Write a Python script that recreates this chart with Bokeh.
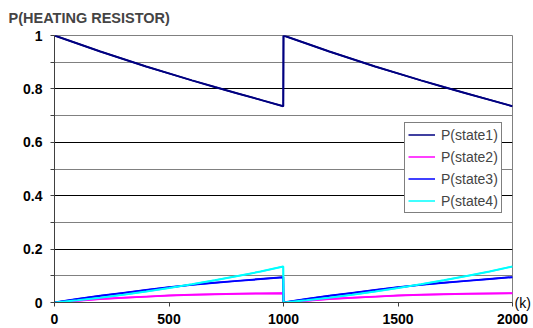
from bokeh.plotting import figure
from bokeh.models import (Range1d, ColumnDataSource, Legend, LegendItem,
                          FixedTicker, Title, LinearAxis)
from bokeh.embed import file_html
from bokeh.resources import INLINE

# ---- data ----
k = [0, 100, 200, 300, 400, 500, 600, 700, 800, 900, 999,
     1000, 1100, 1200, 1300, 1400, 1500, 1600, 1700, 1800, 1900, 2000]
p_state1 = [1.000, 0.970, 0.940, 0.912, 0.884, 0.858, 0.832, 0.807, 0.783, 0.759, 0.735,
            1.000, 0.970, 0.940, 0.912, 0.884, 0.858, 0.832, 0.807, 0.783, 0.759, 0.735]
p_state2 = [0.000, 0.007, 0.013, 0.018, 0.022, 0.026, 0.029, 0.031, 0.033, 0.034, 0.035,
            0.000, 0.007, 0.013, 0.018, 0.022, 0.026, 0.029, 0.031, 0.033, 0.034, 0.035]
p_state3 = [0.000, 0.013, 0.025, 0.036, 0.047, 0.057, 0.066, 0.074, 0.081, 0.088, 0.095,
            0.000, 0.013, 0.025, 0.036, 0.047, 0.057, 0.066, 0.074, 0.081, 0.088, 0.095]
p_state4 = [0.000, 0.008, 0.018, 0.029, 0.041, 0.054, 0.068, 0.083, 0.099, 0.116, 0.135,
            0.000, 0.008, 0.018, 0.029, 0.041, 0.054, 0.068, 0.083, 0.099, 0.116, 0.135]
series_names = ["P(state1)", "P(state2)", "P(state3)", "P(state4)"]
series_colors = ["#000080", "#ff00ff", "#0000ff", "#00ffff"]
x_ticks = [0, 500, 1000, 1500, 2000]
y_major_ticks = [0, 0.2, 0.4, 0.6, 0.8, 1.0]
y_minor_ticks = [0.1, 0.3, 0.5, 0.7, 0.9]
chart_title = "P(HEATING RESISTOR)"
x_unit = "(k)"

FONT = "Liberation Sans"

p = figure(width=533, height=328, output_backend="svg", toolbar_location=None,
           x_range=Range1d(0, 2000), y_range=Range1d(0, 1),
           min_border_left=54, min_border_right=21, min_border_top=35,
           min_border_bottom=26)
p.outline_line_color = "#808080"
p.outline_line_width = 1
p.background_fill_color = "white"

# axes
p.xaxis.ticker = FixedTicker(ticks=x_ticks)
p.yaxis.ticker = FixedTicker(ticks=y_major_ticks, minor_ticks=y_minor_ticks)
for ax in (p.xaxis[0], p.yaxis[0]):
    ax.axis_line_color = "#404040"
    ax.major_tick_line_color = "#404040"
    ax.major_tick_out = 4
    ax.major_tick_in = 0
    ax.major_label_text_font = FONT
    ax.major_label_text_font_style = "bold"
    ax.major_label_text_font_size = "14px"
    ax.major_label_text_color = "black"
p.xaxis.major_label_standoff = 7
p.xaxis.minor_tick_line_color = None
p.yaxis.minor_tick_line_color = "#404040"
p.yaxis.minor_tick_out = 4
p.yaxis.minor_tick_in = 0
p.yaxis.major_label_standoff = 8
p.yaxis.formatter.use_scientific = False

# unit "(k)" at the right end of the x axis, drawn as a right-side axis label at y = 0
unit_axis = LinearAxis(ticker=FixedTicker(ticks=[0]),
                       major_label_overrides={0: x_unit})
unit_axis.axis_line_color = None
unit_axis.major_tick_line_color = None
unit_axis.minor_tick_line_color = None
unit_axis.major_tick_out = 0
unit_axis.major_tick_in = 0
unit_axis.minor_tick_out = 0
unit_axis.minor_tick_in = 0
unit_axis.major_label_standoff = 2
unit_axis.major_label_text_font = FONT
unit_axis.major_label_text_font_size = "14px"
unit_axis.major_label_text_color = "black"
p.add_layout(unit_axis, "right")

# grid
p.xgrid.grid_line_color = None
p.ygrid.grid_line_color = "#000000"
p.ygrid.grid_line_width = 1
p.ygrid.minor_grid_line_color = "#808080"
p.ygrid.minor_grid_line_width = 1

src = ColumnDataSource(dict(k=k, s1=p_state1, s2=p_state2, s3=p_state3, s4=p_state4))
cols = ["s1", "s2", "s3", "s4"]

# thin copies (used for the legend samples), hidden under the thick lines
thin = {}
for col, name, color in zip(cols, series_names, series_colors):
    thin[col] = p.line("k", col, source=src, line_color=color, line_width=1.5)

# thick visible lines; draw order: state2, state3, state4, state1
for col, color in zip(["s2", "s3", "s4", "s1"],
                      [series_colors[1], series_colors[2], series_colors[3], series_colors[0]]):
    p.line("k", col, source=src, line_color=color, line_width=2)

items = [LegendItem(label=name, renderers=[thin[col]])
         for col, name in zip(cols, series_names)]
legend = Legend(items=items, location=(350, 89))
legend.border_line_color = "black"
legend.border_line_width = 1
legend.background_fill_color = "white"
legend.background_fill_alpha = 1
legend.label_text_font = FONT
legend.label_text_font_size = "14px"
legend.label_height = 17
legend.glyph_height = 17
legend.glyph_width = 27
legend.label_width = 20
legend.label_standoff = 6
legend.spacing = 5
legend.padding = 3
legend.margin = 0
legend.label_text_line_height = 1.0
p.add_layout(legend, "center")

# title
p.title = Title(text=chart_title, text_font=FONT, text_font_style="bold",
                text_font_size="14.5px", align="left", offset=-46, standoff=16,
                vertical_align="top")

open("out.html", "w").write(file_html(p, INLINE))
